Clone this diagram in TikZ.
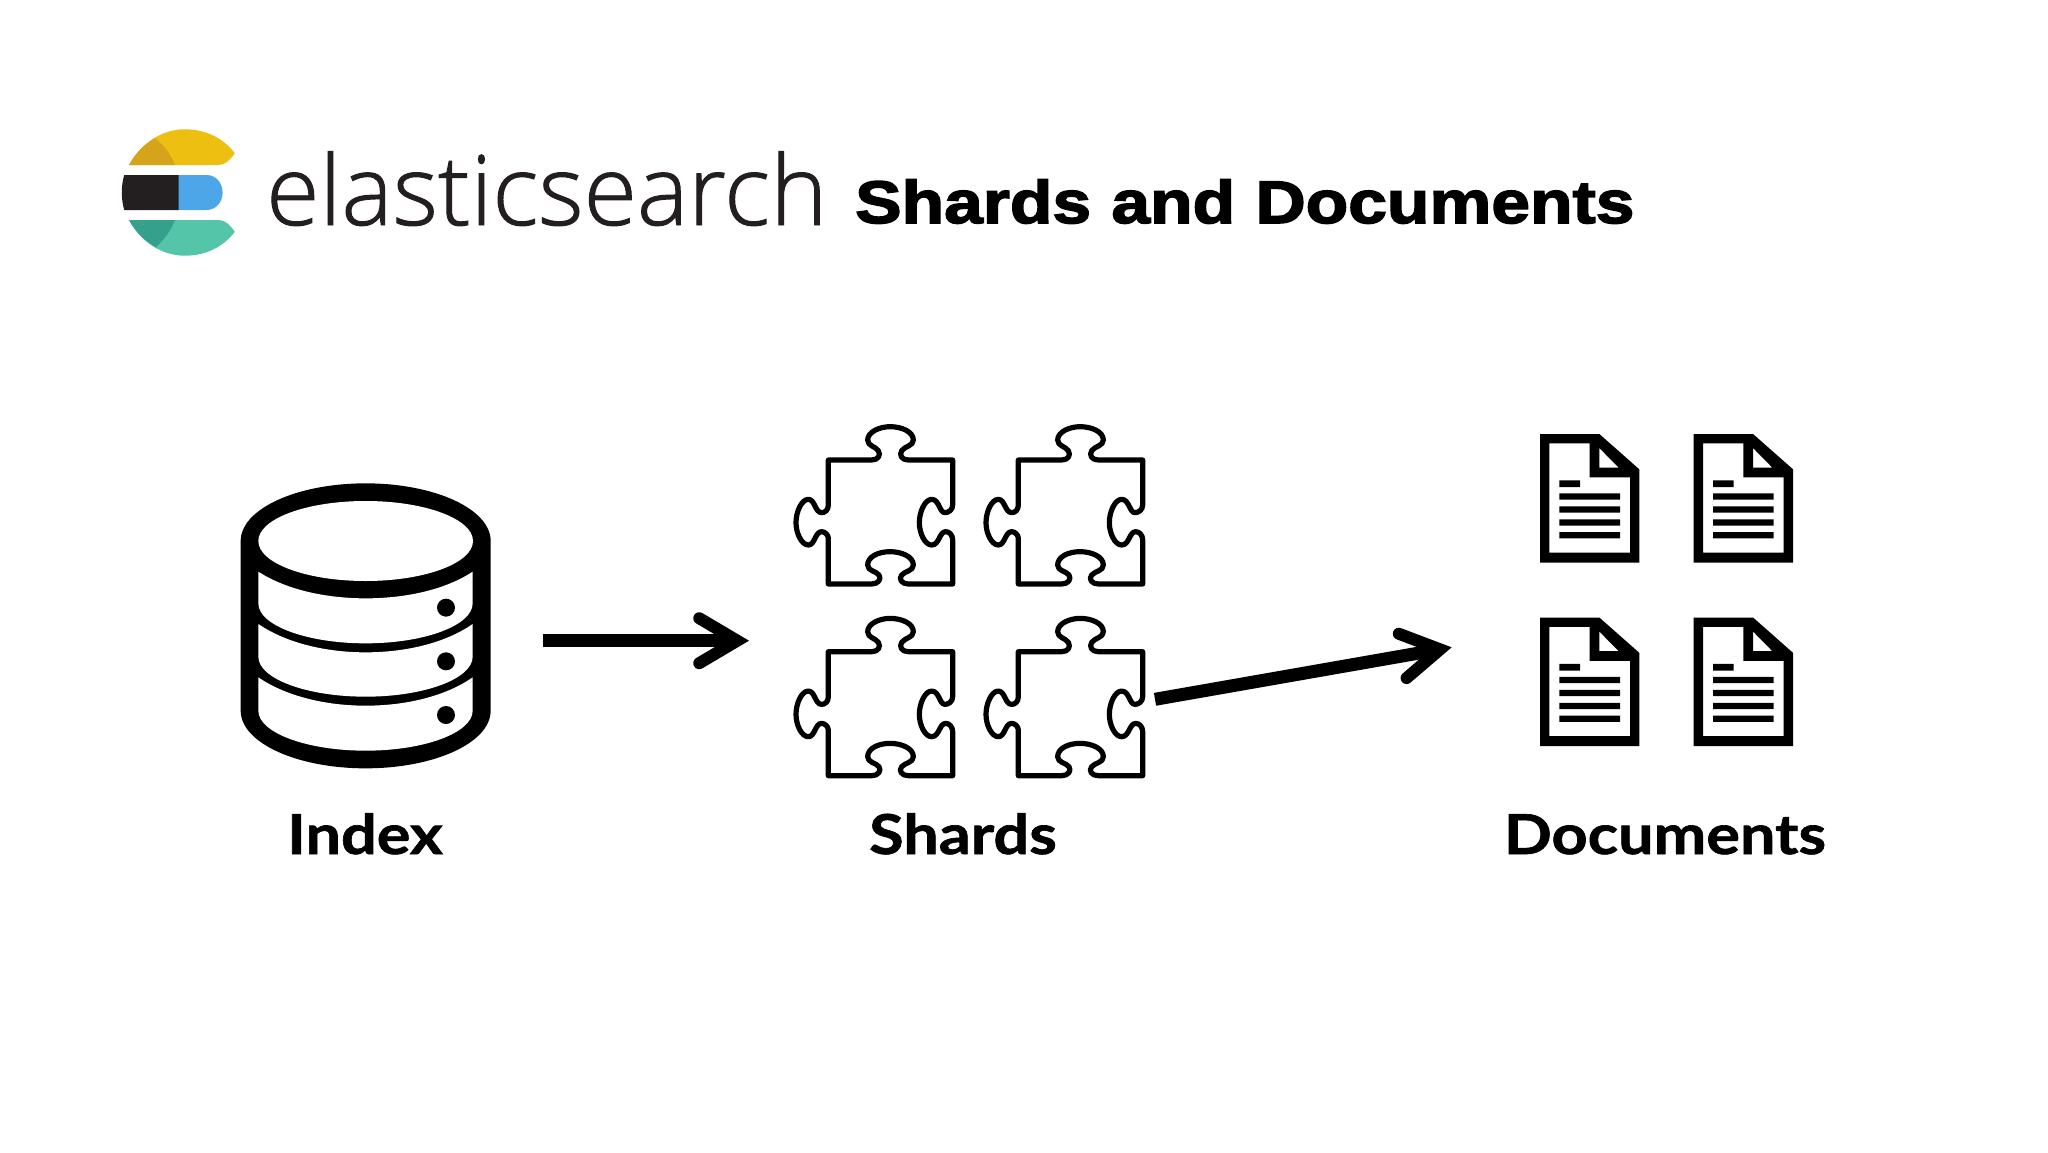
\documentclass[tikz,border=0pt]{standalone}
\usepackage{fontspec}
\usetikzlibrary{arrows.meta}
\newfontfamily\titlefont[FakeStretch=1.16,FakeBold=2.6,WordSpace=1.05]{Liberation Sans Bold}
\newfontfamily\logofont[UprightFont=* Light,FakeBold=1]{Open Sans}
\newfontfamily\labelfont[FakeStretch=1.145,FakeBold=1.2]{Lato Bold}
\definecolor{logoink}{HTML}{231F20}
\definecolor{logoyellow}{HTML}{EDBF10}
\definecolor{logoyellowdark}{HTML}{D5A41B}
\definecolor{logoblue}{HTML}{4CA6E8}
\definecolor{logogreen}{HTML}{55C5AA}
\definecolor{logogreendark}{HTML}{35A08B}
\tikzset{
  labeltext/.style={anchor=base,inner sep=0pt,font=\labelfont\fontsize{55}{60}\selectfont,text=black},
  bigarrow/.style={line width=13pt,line cap=butt,
    -{Straight Barb[length=38pt,width=45pt,line width=12pt,line cap=round,line join=miter]}},
  zoomunits/.style={x=.33333pt,y=-.33333pt},
  puzzlepiece/.pic={
    \draw[zoomunits,line width=5.2pt,line join=round,fill=white]
      (145,150) -- (275,150) .. controls (295,150) and (303,135) .. (295,122)
      .. controls (285,108) and (263,108) .. (263,90)
      .. controls (263,65) and (300,50) .. (330,50)
      .. controls (365,50) and (400,65) .. (400,90)
      .. controls (400,108) and (375,108) .. (365,122)
      .. controls (357,135) and (365,150) .. (385,150) -- (518,150) -- (518,285)
      .. controls (518,300) and (505,308) .. (495,308)
      .. controls (478,308) and (478,268) .. (455,268)
      .. controls (435,268) and (418,305) .. (418,338)
      .. controls (418,370) and (435,405) .. (455,405)
      .. controls (478,405) and (478,365) .. (497,365)
      .. controls (508,365) and (518,375) .. (518,390) -- (518,522) -- (385,522)
      .. controls (365,522) and (355,507) .. (365,495)
      .. controls (375,483) and (400,483) .. (400,465)
      .. controls (400,440) and (365,425) .. (330,425)
      .. controls (295,425) and (263,440) .. (263,465)
      .. controls (263,483) and (288,483) .. (297,495)
      .. controls (305,507) and (295,522) .. (275,522) -- (145,522) -- (145,385)
      .. controls (145,375) and (135,365) .. (125,365)
      .. controls (105,365) and (105,405) .. (85,405)
      .. controls (65,405) and (48,370) .. (48,338)
      .. controls (48,305) and (65,268) .. (85,268)
      .. controls (105,268) and (105,308) .. (125,308)
      .. controls (135,308) and (145,300) .. (145,285) -- cycle;
  },
  documentpage/.pic={
    \fill[zoomunits,even odd rule,black]
      (60,42) -- (238,42) -- (358,148) -- (358,428) -- (60,428) -- cycle
      (88,70) -- (209,70) -- (209,172) -- (330,172) -- (330,398) -- (88,398) -- cycle
      (238,84) -- (296,143) -- (238,143) -- cycle;
    \fill[zoomunits,black] (118,181) rectangle (180,201)
      (118,220) rectangle (300,239) (118,259) rectangle (300,278)
      (118,298) rectangle (300,317) (118,336) rectangle (300,355);
  }
}
\begin{document}
\begin{tikzpicture}[x=1pt,y=-1pt]
\useasboundingbox (0,0) rectangle (2048,1152);
\fill[white] (0,0) rectangle (2048,1152);

% logo
\fill[logoyellow] (129,165) .. controls (140,145) and (160,129.3) .. (184.8,129.3)
  .. controls (208,129.3) and (225,140) .. (234.8,153.3)
  .. controls (230,160) and (225,165) .. (218.8,165) -- cycle;
\fill[logoyellowdark] (129,165) .. controls (136,152) and (145,144) .. (154.8,138.3)
  .. controls (165,146) and (171,155) .. (175,165) -- cycle;
\fill[logoblue] (178,175) -- (206.6,175) .. controls (216,175) and (222.6,183) .. (222.6,192.7)
  .. controls (222.6,202) and (216,210) .. (206.6,210) -- (178,210) -- cycle;
\fill[logoink] (124.2,175) -- (178.5,175) -- (178.5,210) -- (124.2,210)
  .. controls (122.5,204) and (121.8,198) .. (121.8,192.7)
  .. controls (121.8,187) and (122.5,181) .. (124.2,175) -- cycle;
\fill[logogreen] (129,220) .. controls (140,240) and (160,255.7) .. (184.8,255.7)
  .. controls (208,255.7) and (225,245) .. (234.8,231.7)
  .. controls (230,225) and (225,220) .. (218.8,220) -- cycle;
\fill[logogreendark] (129,220) .. controls (136,233) and (145,241) .. (155.7,247.3)
  .. controls (165,239) and (171,230) .. (175,220) -- cycle;

\node[anchor=base west,inner sep=0pt,text=logoink,font=\logofont\fontsize{97}{100}\selectfont] (brand) at (266,225) {elasticsearch};
\node[anchor=base west,inner sep=0pt,text=black,font=\titlefont\fontsize{60}{64}\selectfont] (title) at (855,223) {Shards and Documents};

% database
\begin{scope}[shift={(220,470)},zoomunits]
  \fill[black] (62,213) .. controls (62,117) and (230,40) .. (437,40)
    .. controls (644,40) and (812,117) .. (812,213) -- (812,722)
    .. controls (812,818) and (644,895) .. (437,895)
    .. controls (230,895) and (62,818) .. (62,722) -- cycle;
  \fill[white] (437,213) ellipse [x radius=322,y radius=120];
  \fill[white] (115,305) .. controls (200,360) and (320,385) .. (437,385)
    .. controls (555,385) and (675,360) .. (758,305) -- (758,400)
    .. controls (758,466) and (614,520) .. (437,520)
    .. controls (260,520) and (115,466) .. (115,400) -- cycle;
  \fill[white] (115,462) .. controls (200,520) and (320,547) .. (437,547)
    .. controls (555,547) and (675,520) .. (758,462) -- (758,560)
    .. controls (758,626) and (614,680) .. (437,680)
    .. controls (260,680) and (115,626) .. (115,560) -- cycle;
  \fill[white] (115,622) .. controls (200,680) and (320,707) .. (437,707)
    .. controls (555,707) and (675,680) .. (758,622) -- (758,722)
    .. controls (758,788) and (614,842) .. (437,842)
    .. controls (260,842) and (115,788) .. (115,722) -- cycle;
  \fill[black] (678,413) circle [radius=27] (678,574) circle [radius=27] (678,735) circle [radius=27];
\end{scope}

% shards
\pic (shardA) at (780,410) {puzzlepiece};
\pic (shardB) at (970,410) {puzzlepiece};
\pic (shardC) at (780,601.7) {puzzlepiece};
\pic (shardD) at (970,601.7) {puzzlepiece};

% documents
\pic (docA) at (1520,420) {documentpage};
\pic (docB) at (1673.7,420) {documentpage};
\pic (docC) at (1520,603.5) {documentpage};
\pic (docD) at (1673.7,603.5) {documentpage};

% connectors
\coordinate (indexOut) at (542.7,640.7);
\coordinate (shardsIn) at (749,640.7);
\coordinate (shardsOut) at (1155,699.3);
\coordinate (documentsIn) at (1451.7,647.3);
\draw[bigarrow] (indexOut) -- (shardsIn);
\draw[bigarrow] (shardsOut) -- (documentsIn);

% labels
\node[labeltext] (indexLabel) at (365,854) {Index};
\node[labeltext] (shardsLabel) at (963,854) {Shards};
\node[labeltext] (documentsLabel) at (1665,854) {Documents};
\end{tikzpicture}
\end{document}
